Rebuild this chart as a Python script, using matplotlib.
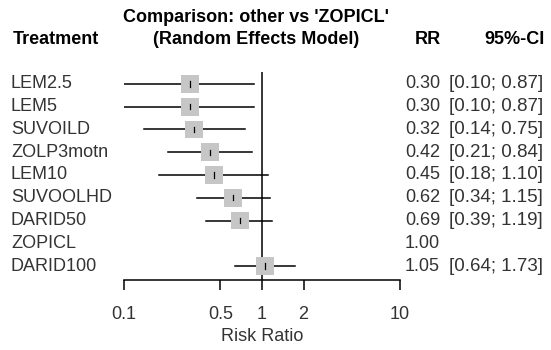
import matplotlib
matplotlib.use("Agg")
import matplotlib.pyplot as plt
import matplotlib.transforms as mtransforms
import numpy as np

plt.rcParams['font.family'] = ['Liberation Sans', 'DejaVu Sans']

# data
treatments = ['LEM2.5', 'LEM5', 'SUVOILD', 'ZOLP3motn', 'LEM10',
              'SUVOOLHD', 'DARID50', 'ZOPICL', 'DARID100']
rr = [0.30, 0.30, 0.32, 0.42, 0.45, 0.62, 0.69, 1.00, 1.05]
ci_low = [0.10, 0.10, 0.14, 0.21, 0.18, 0.34, 0.39, np.nan, 0.64]
ci_high = [0.87, 0.87, 0.75, 0.84, 1.10, 1.15, 1.19, np.nan, 1.73]
xticks = [0.1, 0.5, 1, 2, 10]
xtick_labels = ['0.1', '0.5', '1', '2', '10']

W, H = 551, 350
FS = 13
fig = plt.figure(figsize=(W / 100, H / 100), dpi=100)
ax = fig.add_axes([124 / W, 1 - 280 / H, 276 / W, 208 / H])
ax.set_xscale('log')
ax.set_xlim(0.1, 10)
ax.set_ylim(8.615, -0.527)

rows = np.arange(len(treatments))
ax.axvline(1, color='black', lw=1.1, zorder=1)

for i in rows:
    if np.isnan(ci_low[i]):
        continue
    ax.plot([ci_low[i], ci_high[i]], [i, i], color='black', lw=1.1, zorder=2)
    ax.scatter(rr[i], i, marker='s', s=165, color='#c6c6c6', edgecolors='none', zorder=3)
    ax.plot([rr[i], rr[i]], [i - 0.12, i + 0.12], color='black', lw=0.9, zorder=4)

for s in ['top', 'right', 'left']:
    ax.spines[s].set_visible(False)
ax.spines['bottom'].set_linewidth(1.1)
ax.set_yticks([])
ax.set_xticks(xticks)
ax.set_xticklabels(xtick_labels)
ax.minorticks_off()
ax.tick_params(axis='x', direction='out', length=7, width=1.1, pad=12,
               labelsize=FS, labelcolor='#333333')
ax.set_xlabel('Risk Ratio', fontsize=FS, color='#333333', labelpad=3)

# row labels and estimates
tr = mtransforms.blended_transform_factory(fig.transFigure, ax.transData)
for i in rows:
    ax.text(11 / W, i, treatments[i], transform=tr, ha='left', va='center',
            fontsize=FS, color='#333333')
    ax.text(405 / W, i, f'{rr[i]:.2f}', transform=tr, ha='left', va='center',
            fontsize=FS, color='#333333')
    if not np.isnan(ci_low[i]):
        ax.text(449 / W, i, f'[{ci_low[i]:.2f}; {ci_high[i]:.2f}]', transform=tr,
                ha='left', va='center', fontsize=FS + 0.5, color='#333333')

# headers
fig.text(13 / W, 1 - 40 / H, 'Treatment', ha='left', va='center', fontsize=FS, fontweight='bold')
fig.text(256 / W, 1 - 17 / H, "Comparison: other vs 'ZOPICL'", ha='center', va='center',
         fontsize=FS, fontweight='bold')
fig.text(256 / W, 1 - 40 / H, '(Random Effects Model)', ha='center', va='center',
         fontsize=FS, fontweight='bold')
fig.text(428 / W, 1 - 40 / H, 'RR', ha='center', va='center', fontsize=FS, fontweight='bold')
fig.text(545 / W, 1 - 40 / H, '95%-CI', ha='right', va='center', fontsize=FS, fontweight='bold')

fig.savefig('out.png', dpi=100)
